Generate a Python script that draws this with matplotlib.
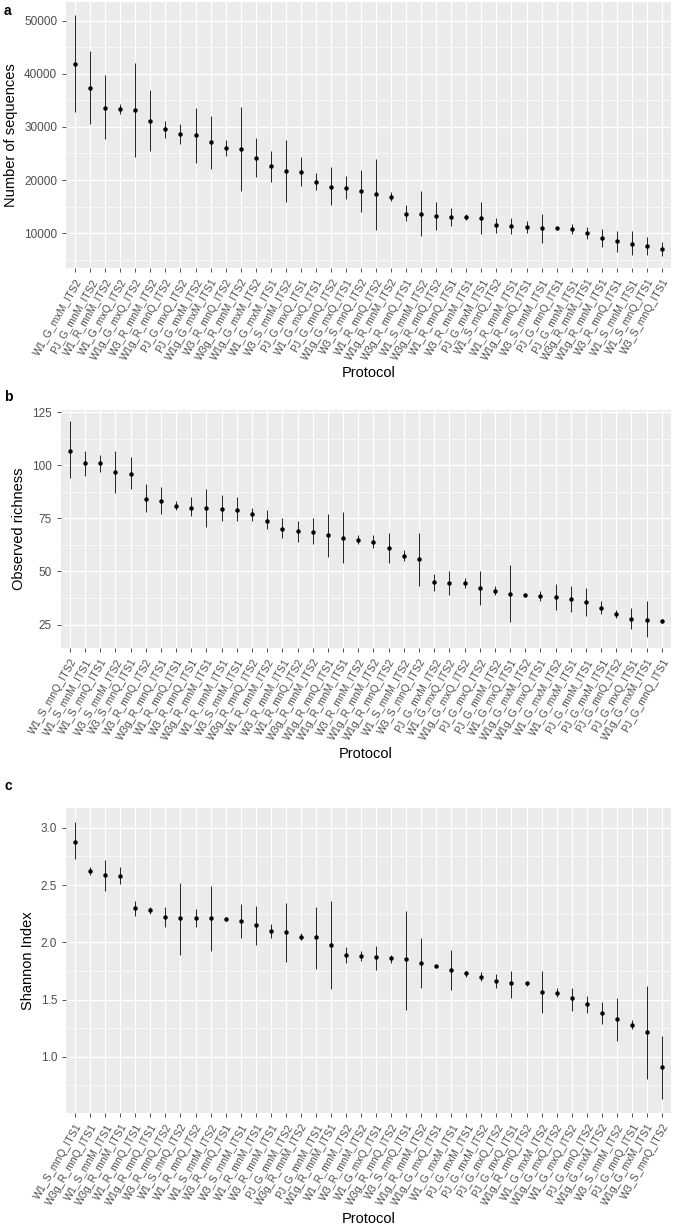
import numpy as np
import matplotlib
matplotlib.use("Agg")
import matplotlib.pyplot as plt
from matplotlib.ticker import MultipleLocator, FormatStrFormatter

plt.rcParams['font.family'] = ['Liberation Sans', 'DejaVu Sans']

# panel a: number of sequences
a_labels = ["W1_G_mxM_ITS2", "PJ_G_mnM_ITS2", "W1_R_mnM_ITS2", "W1_G_mxQ_ITS2", "W1g_G_mxQ_ITS2",
            "W3_R_mnM_ITS2", "W1g_R_mnQ_ITS2", "PJ_G_mxQ_ITS2", "PJ_G_mxM_ITS2", "W1g_G_mxM_ITS1",
            "W3_R_mnQ_ITS2", "W3g_R_mnM_ITS2", "W1g_G_mxM_ITS2", "W1_G_mxM_ITS1", "W3_S_mnM_ITS2",
            "PJ_G_mxQ_ITS1", "W1_G_mxQ_ITS1", "PJ_G_mnQ_ITS2", "W1g_G_mxQ_ITS1", "W3_S_mnQ_ITS2",
            "W1_R_mnQ_ITS2", "W1g_R_mnM_ITS2", "W3g_R_mnQ_ITS1", "W1_S_mnM_ITS2", "W3g_R_mnQ_ITS2",
            "W1_R_mnQ_ITS1", "W3_R_mnM_ITS1", "PJ_G_mxM_ITS1", "W1_S_mnQ_ITS2", "W1_R_mnM_ITS1",
            "W1g_R_mnQ_ITS1", "W3_S_mnM_ITS1", "PJ_G_mnQ_ITS1", "PJ_G_mnM_ITS1", "W3g_R_mnM_ITS1",
            "W1g_R_mnM_ITS1", "W3_R_mnQ_ITS1", "W1_S_mnM_ITS1", "W1_S_mnQ_ITS1", "W3_S_mnQ_ITS1"]
a_mean = [41800, 37300, 33600, 33300, 33200, 31200, 29600, 28600, 28400, 27100,
          26000, 25800, 24200, 22600, 21700, 21600, 19700, 18700, 18500, 17900,
          17300, 16800, 13600, 13500, 13200, 13100, 13000, 12900, 11500, 11300,
          11100, 10900, 10900, 10800, 10000, 9100, 8500, 8000, 7600, 7000]
a_low = [32800, 30500, 27700, 32500, 24300, 25400, 28000, 26700, 23200, 22100,
         24600, 17900, 20500, 19700, 15800, 18800, 18200, 15200, 16400, 13900,
         10600, 16000, 12300, 9500, 10600, 11400, 12500, 9900, 10100, 9800,
         10100, 8200, 10700, 9800, 8900, 7400, 6500, 5900, 5800, 5700]
a_high = [51200, 44300, 39800, 34300, 42100, 37000, 31200, 30500, 33600, 32100,
          27500, 33800, 28000, 25500, 27600, 24400, 21300, 22500, 20700, 21900,
          23900, 17700, 15200, 18000, 15800, 14800, 13600, 15900, 12800, 12900,
          12300, 13600, 11100, 11800, 11200, 10800, 10400, 10300, 9300, 8300]

# panel b: observed richness
b_labels = ["W1_S_mnQ_ITS2", "W1_S_mnM_ITS1", "W1_S_mnQ_ITS1", "W3_S_mnM_ITS2", "W3_S_mnQ_ITS1",
            "W3_R_mnQ_ITS2", "W3g_R_mnQ_ITS1", "W1_R_mnQ_ITS1", "W3_R_mnQ_ITS1", "W3g_R_mnM_ITS1",
            "W1_R_mnM_ITS1", "W3_S_mnM_ITS1", "W3g_R_mnQ_ITS2", "W1_R_mnM_ITS2", "W3_R_mnM_ITS1",
            "W1_R_mnQ_ITS2", "W3g_R_mnM_ITS2", "W1g_R_mnQ_ITS1", "W1g_R_mnM_ITS1", "W3_R_mnM_ITS2",
            "W1g_R_mnM_ITS2", "W1g_R_mnQ_ITS2", "W1_S_mnM_ITS2", "W3_S_mnQ_ITS2", "PJ_G_mxM_ITS2",
            "W1_G_mxQ_ITS2", "W1g_G_mxQ_ITS2", "PJ_G_mxQ_ITS2", "PJ_G_mnM_ITS2", "W1_G_mxQ_ITS1",
            "W1g_G_mxM_ITS2", "W1g_G_mxQ_ITS1", "W1_G_mxM_ITS2", "W1_G_mxM_ITS1", "PJ_G_mnM_ITS1",
            "PJ_G_mxM_ITS1", "PJ_G_mnQ_ITS2", "PJ_G_mxQ_ITS1", "W1g_G_mxM_ITS1", "PJ_G_mnQ_ITS1"]
b_mean = [107, 101, 101, 97, 96, 84, 83, 81, 80, 80,
          79.5, 79, 77, 74, 70, 69, 68.5, 67, 66, 65,
          64, 61, 57.5, 56, 45, 44.5, 44.5, 42, 41, 39.5,
          39, 38.5, 38, 37, 35.5, 33, 30, 27.5, 27, 26.5]
b_low = [94, 95, 97, 87, 89, 78, 77, 79, 76, 71,
         74, 74, 74, 70, 66, 64, 63, 57, 54, 63,
         61, 54, 55, 43, 41, 39, 42, 34, 39, 26,
         38.5, 36, 32, 31, 29, 30, 28, 23, 19, 25.5]
b_high = [121, 107, 105, 107, 104, 91, 90, 83, 85, 89,
          86, 85, 80, 79, 75, 74, 75, 77, 78, 67,
          67, 68, 60, 68, 49, 50, 47, 50, 43, 53,
          39.5, 41, 44, 43, 42, 36, 32, 33, 36, 27.5]

# panel c: Shannon index
c_labels = ["W1_S_mnQ_ITS1", "W3g_R_mnQ_ITS1", "W1_S_mnM_ITS1", "W3g_R_mnM_ITS1", "W1_R_mnQ_ITS1",
            "W1g_R_mnQ_ITS1", "W3_R_mnQ_ITS2", "W1_S_mnQ_ITS2", "W1_R_mnQ_ITS2", "W1_S_mnM_ITS2",
            "W3_R_mnQ_ITS1", "W3_S_mnM_ITS1", "W1_R_mnM_ITS1", "W3_R_mnM_ITS1", "PJ_G_mnM_ITS2",
            "W3g_R_mnM_ITS2", "PJ_G_mnM_ITS1", "W1g_R_mnM_ITS1", "W1_R_mnM_ITS2", "W3_R_mnM_ITS2",
            "W1_G_mxQ_ITS1", "W3g_R_mnQ_ITS2", "W3_S_mnQ_ITS1", "W1g_R_mnM_ITS2", "W1g_G_mxQ_ITS1",
            "W1_G_mxM_ITS1", "PJ_G_mxM_ITS1", "PJ_G_mxM_ITS2", "PJ_G_mxQ_ITS2", "PJ_G_mxQ_ITS1",
            "W1g_R_mnQ_ITS2", "W1_G_mxM_ITS2", "W1g_G_mxQ_ITS2", "W1_G_mxQ_ITS2", "PJ_G_mnQ_ITS2",
            "W1g_G_mxM_ITS2", "W3_S_mnM_ITS2", "PJ_G_mnQ_ITS1", "W1g_G_mxM_ITS1", "W3_S_mnQ_ITS2"]
c_mean = [2.88, 2.62, 2.59, 2.58, 2.30, 2.28, 2.22, 2.21, 2.21, 2.21,
          2.20, 2.19, 2.15, 2.10, 2.09, 2.05, 2.05, 1.98, 1.89, 1.88,
          1.87, 1.86, 1.85, 1.82, 1.79, 1.76, 1.73, 1.70, 1.66, 1.64,
          1.64, 1.57, 1.56, 1.51, 1.46, 1.38, 1.33, 1.28, 1.22, 0.91]
c_low = [2.73, 2.59, 2.45, 2.51, 2.23, 2.25, 2.13, 1.89, 2.13, 1.92,
         2.19, 2.04, 1.98, 2.04, 1.83, 2.02, 1.77, 1.59, 1.82, 1.84,
         1.76, 1.82, 1.41, 1.60, 1.78, 1.58, 1.70, 1.66, 1.60, 1.51,
         1.62, 1.38, 1.52, 1.40, 1.38, 1.29, 1.14, 1.24, 0.81, 0.63]
c_high = [3.05, 2.66, 2.72, 2.66, 2.36, 2.31, 2.31, 2.52, 2.29, 2.49,
          2.22, 2.33, 2.32, 2.16, 2.34, 2.08, 2.31, 2.36, 1.96, 1.92,
          1.97, 1.89, 2.27, 2.04, 1.80, 1.93, 1.75, 1.74, 1.72, 1.75,
          1.65, 1.75, 1.60, 1.60, 1.53, 1.48, 1.51, 1.32, 1.62, 1.18]


def gg_panel(ax, labels, mean, low, high, ylabel, major):
    x = np.arange(len(labels))
    mean = np.array(mean)
    low = np.array(low)
    high = np.array(high)
    ax.set_facecolor('#EBEBEB')
    ax.errorbar(x, mean, yerr=[mean - low, high - mean], fmt='o', color='black',
                ms=2.2, elinewidth=0.6, capsize=0, zorder=3)
    # ggplot style expansion
    lo, hi = low.min(), high.max()
    pad = (hi - lo) * 0.05
    ax.set_ylim(lo - pad, hi + pad)
    ax.set_xlim(-0.6, len(labels) - 0.4)
    ax.yaxis.set_major_locator(MultipleLocator(major))
    ax.yaxis.set_minor_locator(MultipleLocator(major / 2))
    ax.grid(which='major', color='white', lw=0.9)
    ax.grid(which='minor', axis='y', color='white', lw=0.45)
    ax.set_axisbelow(True)
    for s in ax.spines.values():
        s.set_visible(False)
    ax.set_xticks(x)
    ax.set_xticklabels(labels, rotation=60, ha='right', rotation_mode='anchor',
                       fontsize=7.6, color='#4D4D4D')
    ax.tick_params(axis='both', which='major', length=3, color='#333333', width=0.6)
    ax.tick_params(axis='y', which='minor', length=0)
    ax.tick_params(axis='y', labelsize=8.5, labelcolor='#4D4D4D')
    ax.set_ylabel(ylabel, fontsize=10.5)
    ax.set_xlabel('Protocol', fontsize=10.5, labelpad=3)


fig = plt.figure(figsize=(6.75, 12.29), dpi=100)
ax_a = fig.add_axes([0.098, 0.782, 0.896, 0.216])
ax_b = fig.add_axes([0.090, 0.4727, 0.904, 0.1937])
ax_c = fig.add_axes([0.098, 0.0944, 0.896, 0.248])

gg_panel(ax_a, a_labels, a_mean, a_low, a_high, 'Number of sequences', 10000)
gg_panel(ax_b, b_labels, b_mean, b_low, b_high, 'Observed richness', 25)
gg_panel(ax_c, c_labels, c_mean, c_low, c_high, 'Shannon Index', 0.5)
ax_c.yaxis.set_major_formatter(FormatStrFormatter('%.1f'))

for tag, ypix in [('a', 4), ('b', 390), ('c', 779)]:
    fig.text(0.006, 1 - ypix / 1229, tag, fontsize=10, fontweight='bold', va='top', ha='left')

fig.savefig('out.png', dpi=100)
